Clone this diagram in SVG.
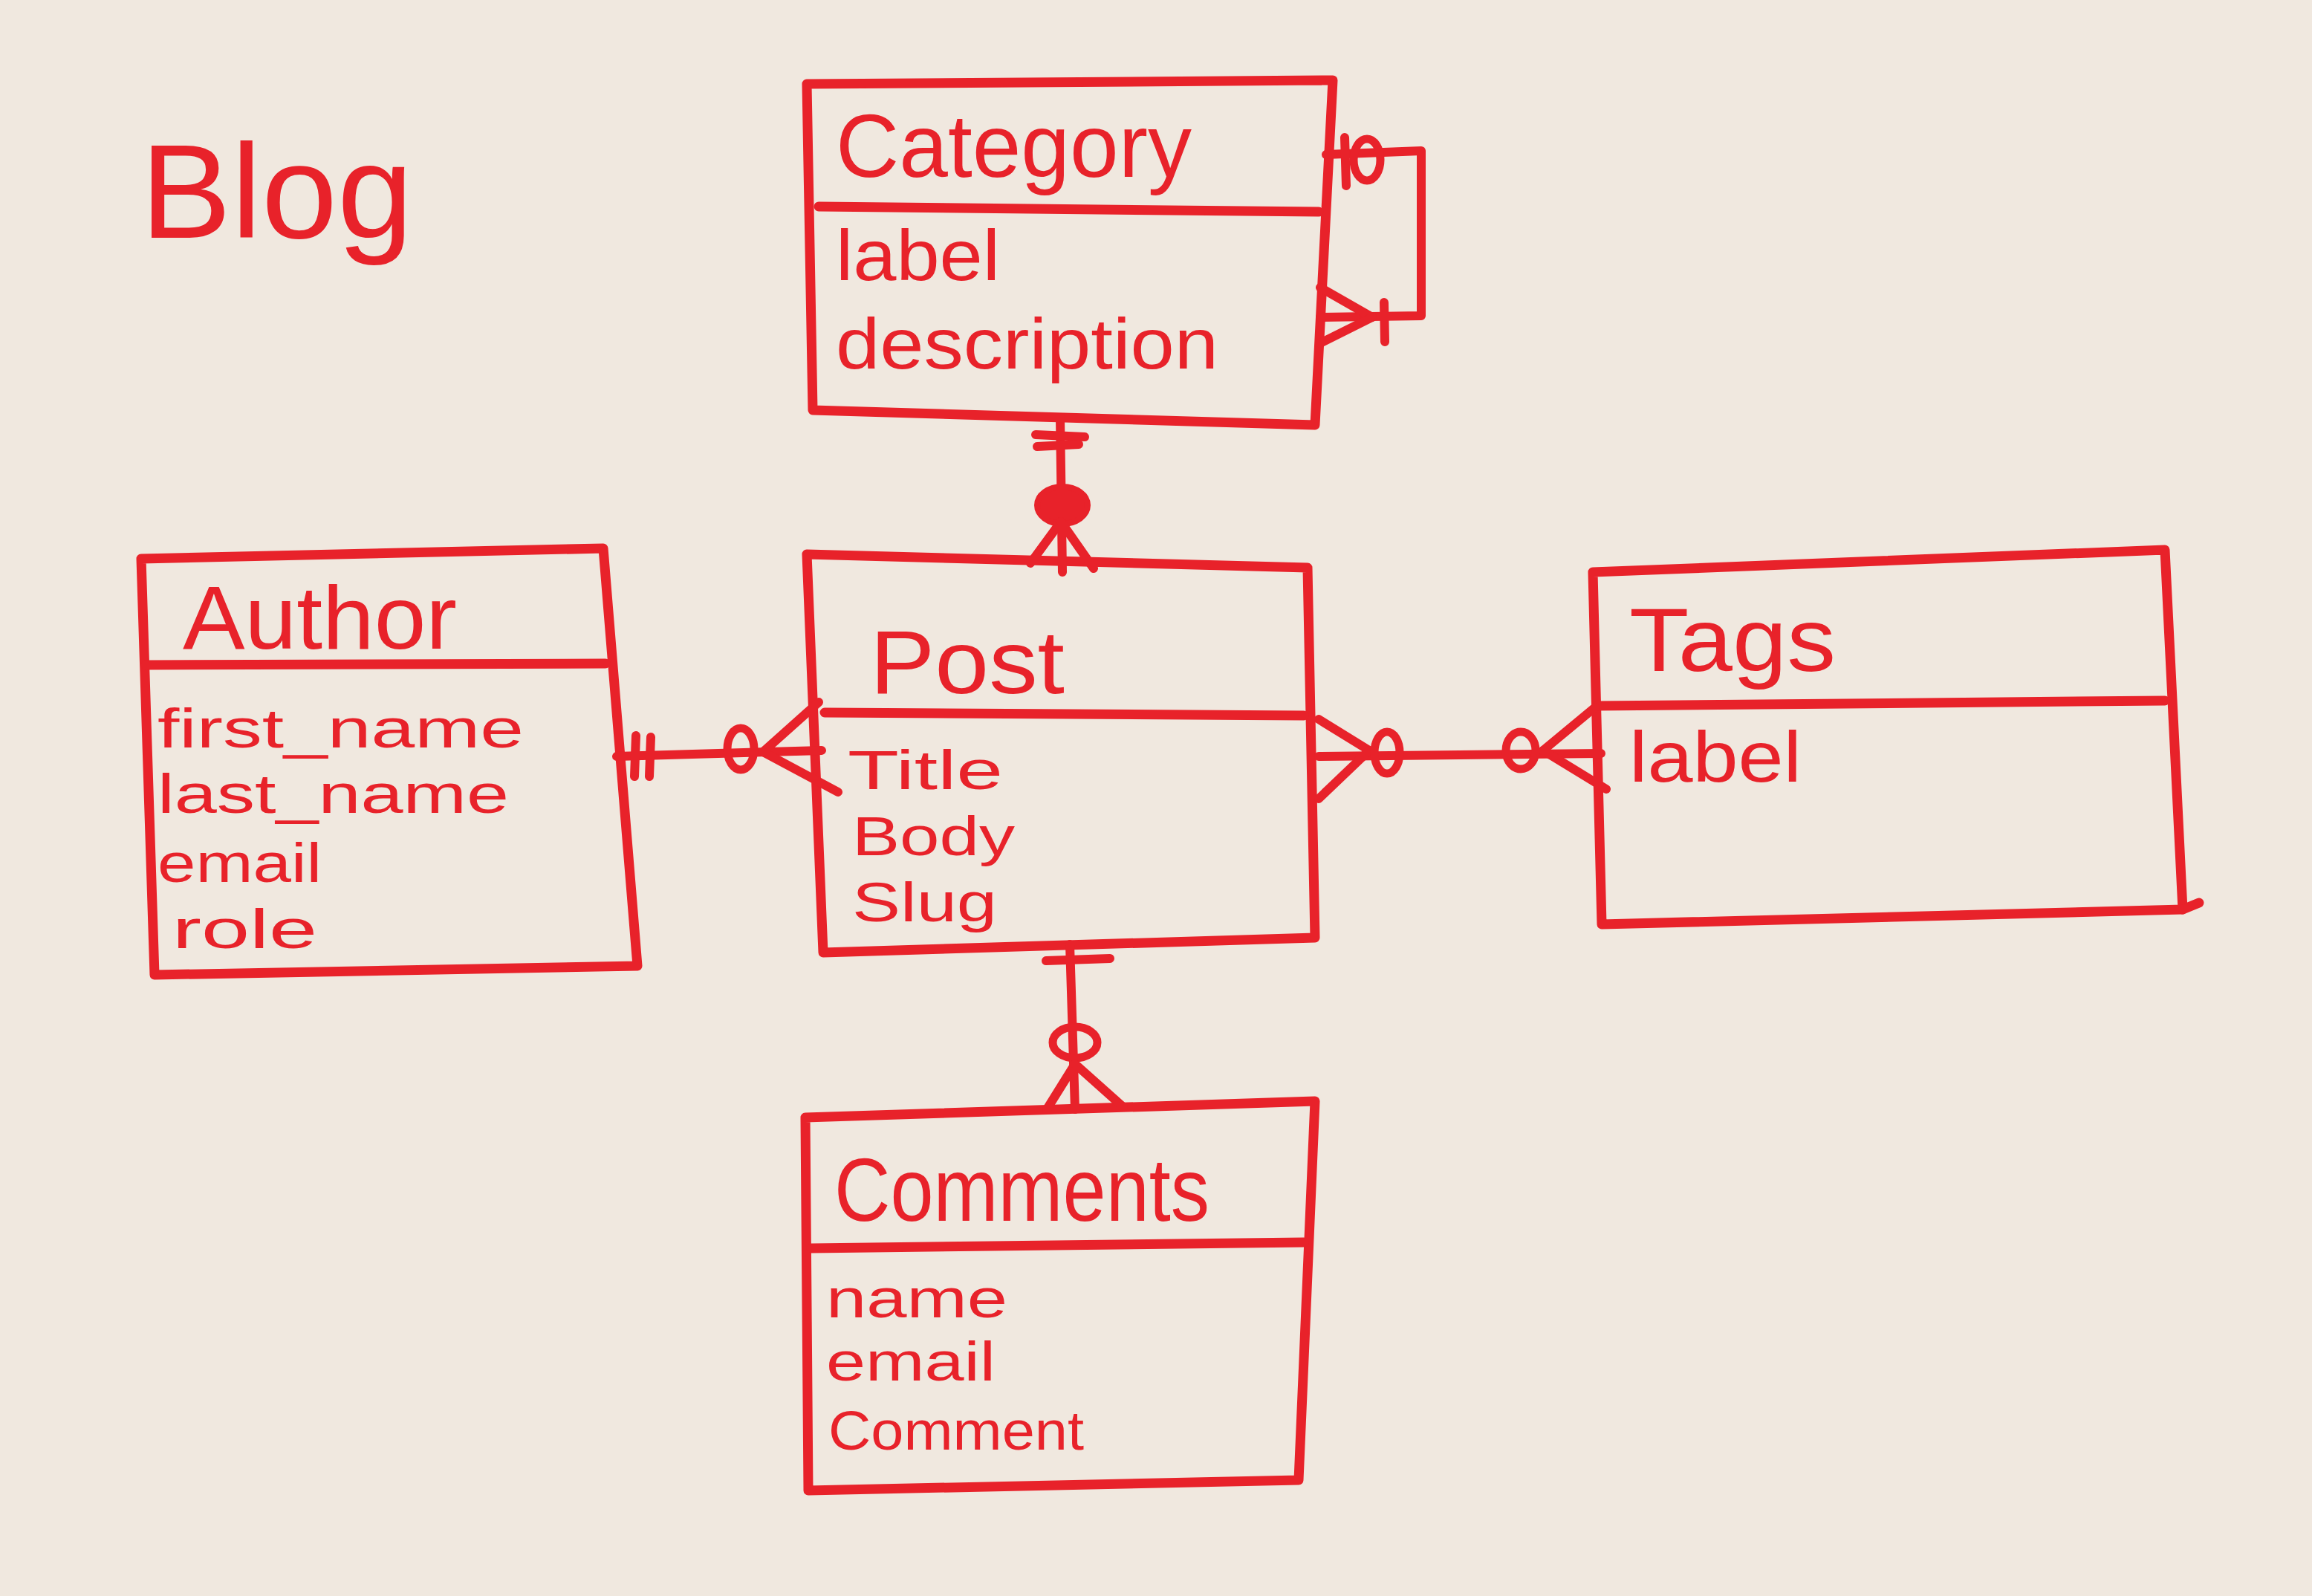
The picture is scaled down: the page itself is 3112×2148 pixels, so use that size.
<svg xmlns="http://www.w3.org/2000/svg" width="3112" height="2148" viewBox="0 0 3112 2148">
<style>
.box{fill:none;stroke:#e8222a;stroke-width:13;stroke-linejoin:round;stroke-linecap:round}
.ln{fill:none;stroke:#e8222a;stroke-width:12;stroke-linecap:round;stroke-linejoin:round}
.circ{fill:none;stroke:#e8222a;stroke-width:11}
.dot{fill:#e8222a;stroke:#e8222a;stroke-width:8}
.t{font-family:"Liberation Sans","DejaVu Sans",sans-serif;fill:#e8222a}
.title{font-size:120px}
.attr{font-size:96px}
.attr-s{font-size:74px}
</style>
<rect x="0" y="0" width="3112" height="2148" fill="#f0e8df"/>
<text class="t" x="189" y="320" font-size="180" textLength="367" lengthAdjust="spacingAndGlyphs">Blog</text>

<g id="category">
<polygon class="box" points="1086,113 1794,108 1770,572 1094,552"/>
<line class="box" x1="1102" y1="278" x2="1775" y2="285"/>
<text class="t title" x="1125" y="238" textLength="479" lengthAdjust="spacingAndGlyphs">Category</text>
<text class="t attr" x="1125" y="377" textLength="221" lengthAdjust="spacingAndGlyphs">label</text>
<text class="t attr" x="1125" y="496" textLength="515" lengthAdjust="spacingAndGlyphs">description</text>
</g>

<g id="post">
<polygon class="box" points="1086,746 1760,764 1770,1262 1108,1282"/>
<line class="box" x1="1110" y1="959" x2="1755" y2="963"/>
<text class="t title" x="1171" y="933" textLength="262" lengthAdjust="spacingAndGlyphs">Post</text>
<text class="t attr-s" x="1141" y="1062" textLength="209" lengthAdjust="spacingAndGlyphs">Title</text>
<text class="t attr-s" x="1147" y="1151" textLength="219" lengthAdjust="spacingAndGlyphs">Body</text>
<text class="t attr-s" x="1147" y="1240" textLength="195" lengthAdjust="spacingAndGlyphs">Slug</text>
</g>

<g id="author">
<polygon class="box" points="190,752 812,738 858,1300 208,1312"/>
<line class="box" x1="196" y1="895" x2="815" y2="893"/>
<text class="t title" x="246" y="873" textLength="369" lengthAdjust="spacingAndGlyphs">Author</text>
<text class="t attr-s" x="212" y="1006" textLength="493" lengthAdjust="spacingAndGlyphs">first_name</text>
<text class="t attr-s" x="212" y="1094" textLength="473" lengthAdjust="spacingAndGlyphs">last_name</text>
<text class="t attr-s" x="212" y="1187" textLength="221" lengthAdjust="spacingAndGlyphs">email</text>
<text class="t attr-s" x="232" y="1276" textLength="195" lengthAdjust="spacingAndGlyphs">role</text>
</g>

<g id="tags">
<polygon class="box" points="2144,770 2914,740 2938,1224 2156,1244"/>
<line class="box" x1="2938" y1="1224" x2="2960" y2="1215"/>
<line class="box" x1="2150" y1="950" x2="2914" y2="943"/>
<text class="t title" x="2193" y="903" textLength="278" lengthAdjust="spacingAndGlyphs">Tags</text>
<text class="t attr" x="2193" y="1052" textLength="232" lengthAdjust="spacingAndGlyphs">label</text>
</g>

<g id="comments">
<polygon class="box" points="1084,1504 1770,1482 1748,1992 1088,2006"/>
<line class="box" x1="1092" y1="1680" x2="1755" y2="1672"/>
<text class="t title" x="1123" y="1643" textLength="505" lengthAdjust="spacingAndGlyphs">Comments</text>
<text class="t attr-s" x="1112" y="1773" textLength="244" lengthAdjust="spacingAndGlyphs">name</text>
<text class="t attr-s" x="1112" y="1858" textLength="228" lengthAdjust="spacingAndGlyphs">email</text>
<text class="t attr-s" x="1115" y="1951" textLength="344" lengthAdjust="spacingAndGlyphs">Comment</text>
</g>

<g id="connectors">
<!-- Category self relation -->
<polyline class="ln" points="1785,208 1913,203 1913,425 1777,427"/>
<line class="ln" x1="1810" y1="185" x2="1812" y2="250"/>
<ellipse class="circ" cx="1840" cy="215" rx="18" ry="28"/>
<line class="ln" x1="1777" y1="387" x2="1847" y2="427"/>
<line class="ln" x1="1777" y1="462" x2="1847" y2="427"/>
<line class="ln" x1="1863" y1="407" x2="1864" y2="460"/>

<!-- Category - Post -->
<line class="ln" x1="1427" y1="562" x2="1430" y2="770"/>
<line class="ln" x1="1394" y1="585" x2="1460" y2="588"/>
<line class="ln" x1="1396" y1="601" x2="1452" y2="598"/>
<ellipse class="dot" cx="1430" cy="680" rx="34" ry="25"/>
<line class="ln" x1="1428" y1="702" x2="1387" y2="758"/>
<line class="ln" x1="1428" y1="702" x2="1472" y2="765"/>

<!-- Author - Post -->
<line class="ln" x1="830" y1="1018" x2="1106" y2="1010"/>
<line class="ln" x1="856" y1="990" x2="854" y2="1045"/>
<line class="ln" x1="876" y1="992" x2="874" y2="1045"/>
<ellipse class="circ" cx="997" cy="1008" rx="18" ry="28"/>
<line class="ln" x1="1027" y1="1012" x2="1102" y2="945"/>
<line class="ln" x1="1027" y1="1012" x2="1128" y2="1066"/>

<!-- Post - Tags -->
<line class="ln" x1="1775" y1="1018" x2="2155" y2="1014"/>
<line class="ln" x1="1775" y1="968" x2="1843" y2="1010"/>
<line class="ln" x1="1775" y1="1075" x2="1843" y2="1010"/>
<ellipse class="circ" cx="1867" cy="1013" rx="17" ry="28"/>
<ellipse class="circ" cx="2047" cy="1010" rx="20" ry="25"/>
<line class="ln" x1="2077" y1="1010" x2="2147" y2="952"/>
<line class="ln" x1="2077" y1="1010" x2="2162" y2="1062"/>

<!-- Post - Comments -->
<line class="ln" x1="1440" y1="1271" x2="1447" y2="1493"/>
<line class="ln" x1="1408" y1="1293" x2="1494" y2="1290"/>
<ellipse class="circ" cx="1447" cy="1403" rx="30" ry="21"/>
<line class="ln" x1="1447" y1="1432" x2="1409" y2="1493"/>
<line class="ln" x1="1447" y1="1432" x2="1512" y2="1490"/>
</g>
</svg>
